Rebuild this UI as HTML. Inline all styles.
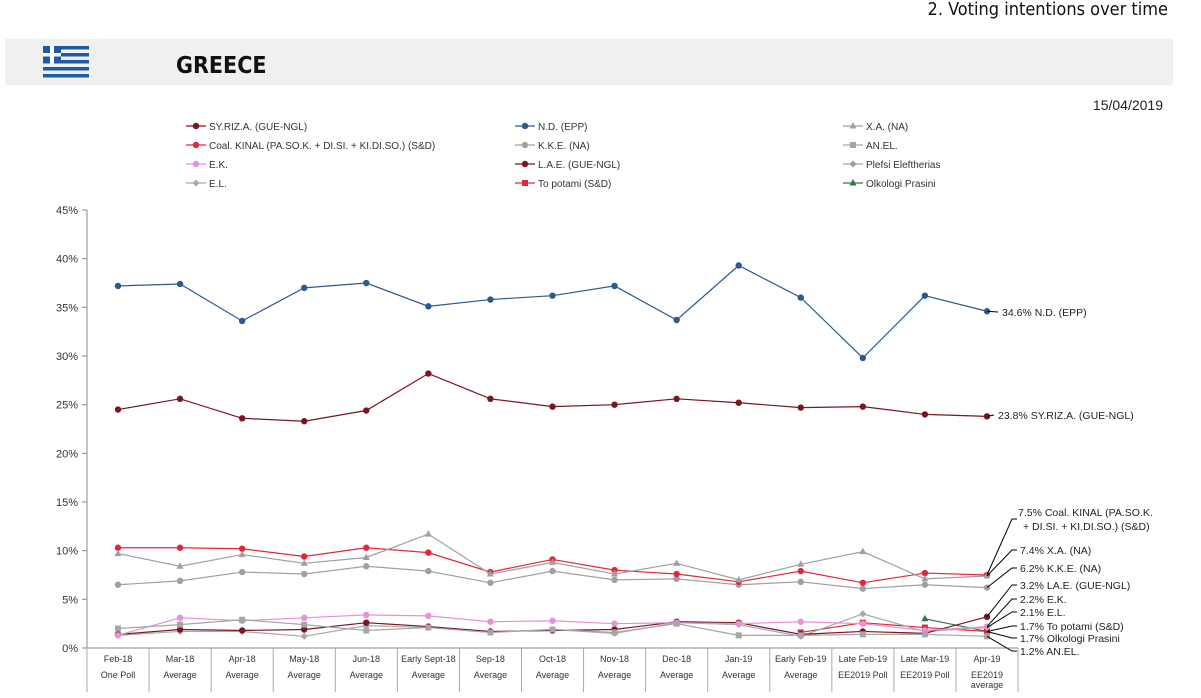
<!DOCTYPE html>
<html><head><meta charset="utf-8"><style>
html,body{margin:0;padding:0;background:#fff;}
svg{display:block;font-family:"Liberation Sans",Arial,sans-serif;}
</style></head><body>
<svg id="s" width="1201" height="698" viewBox="0 0 1201 698" xmlns="http://www.w3.org/2000/svg">
<text x="1168" y="15" text-anchor="end" font-size="18" fill="#111" style="font-family:'DejaVu Sans Condensed','Liberation Sans Narrow','Liberation Sans',sans-serif">2. Voting intentions over time</text>
<rect x="5" y="39" width="1168" height="46" fill="#f0f0f0"/>
<g fill="#1f5aa6">
<rect x="43" y="46" width="46" height="3.5"/><rect x="43" y="53" width="46" height="3.5"/><rect x="43" y="60" width="46" height="3.5"/><rect x="43" y="67" width="46" height="3.5"/><rect x="43" y="74" width="46" height="3.5"/>
<rect x="43" y="46" width="18" height="17.5"/>
</g>
<rect x="50" y="46" width="4" height="17.5" fill="#fff"/><rect x="43" y="53" width="18" height="3.5" fill="#fff"/>
<text x="176" y="73" font-size="23" font-weight="bold" fill="#111" style="font-family:'DejaVu Sans Condensed','Liberation Sans Narrow','Liberation Sans',sans-serif">GREECE</text>
<text x="1163" y="110" text-anchor="end" font-size="14" fill="#222">15/04/2019</text>
<g id="g"></g>
</svg>
<script>
const g=document.getElementById('g');
let h='';
const Y=v=>648-v*9.733, X=i=>118+62.07*i;
// grid axis
h+='<line x1="87" y1="210" x2="87" y2="648" stroke="#888"/>';
for(let p=0;p<=45;p+=5){let y=Y(p);h+=`<line x1="82" y1="${y}" x2="87" y2="${y}" stroke="#888"/><text x="78" y="${y+4}" text-anchor="end" font-size="11" fill="#333">${p}%</text>`;}
h+='<line x1="87" y1="648" x2="1018" y2="648" stroke="#888"/>';
for(let i=0;i<=15;i++){let x=87+62.07*i;h+=`<line x1="${x}" y1="648" x2="${x}" y2="692" stroke="#aaa"/>`;}
const c1=["Feb-18","Mar-18","Apr-18","May-18","Jun-18","Early Sept-18","Sep-18","Oct-18","Nov-18","Dec-18","Jan-19","Early Feb-19","Late Feb-19","Late Mar-19","Apr-19"];
const c2=["One Poll","Average","Average","Average","Average","Average","Average","Average","Average","Average","Average","Average","EE2019 Poll","EE2019 Poll","EE2019"];
c1.forEach((t,i)=>{h+=`<text x="${X(i)}" y="662" text-anchor="middle" font-size="9" fill="#333">${t}</text><text x="${X(i)}" y="678" text-anchor="middle" font-size="9" fill="#333">${c2[i]}</text>`;});
h+=`<text x="${X(14)}" y="688" text-anchor="middle" font-size="9" fill="#333">average</text>`;
const S=[
["SY.RIZ.A. (GUE-NGL)","#7b1520","c",[24.5,25.6,23.6,23.3,24.4,28.2,25.6,24.8,25.0,25.6,25.2,24.7,24.8,24.0,23.8]],
["N.D. (EPP)","#2b5a8f","c",[37.2,37.4,33.6,37.0,37.5,35.1,35.8,36.2,37.2,33.7,39.3,36.0,29.8,36.2,34.6]],
["X.A. (NA)","#a0a0a0","t",[9.7,8.4,9.6,8.7,9.3,11.7,7.6,8.8,7.6,8.7,7.0,8.6,9.9,7.1,7.4]],
["Coal. KINAL (PA.SO.K. + DI.SI. + KI.DI.SO.) (S&amp;D)","#e0283c","c",[10.3,10.3,10.2,9.4,10.3,9.8,7.8,9.1,8.0,7.6,6.8,7.9,6.7,7.7,7.5]],
["K.K.E. (NA)","#a0a0a0","c",[6.5,6.9,7.8,7.6,8.4,7.9,6.7,7.9,7.0,7.1,6.5,6.8,6.1,6.5,6.2]],
["AN.EL.","#a6a6a6","s",[2.0,2.4,2.9,2.4,1.8,2.1,1.6,1.9,1.6,2.5,1.3,1.3,1.4,1.4,1.2]],
["E.K.","#e890d8","c",[1.3,3.1,2.8,3.1,3.4,3.3,2.7,2.8,2.5,2.6,2.5,2.7,2.5,1.8,2.2]],
["L.A.E. (GUE-NGL)","#7b1520","c",[1.4,1.9,1.8,1.9,2.6,2.2,1.7,1.8,1.9,2.7,2.6,1.4,1.7,1.5,3.2]],
["Plefsi Eleftherias","#a0a0a0","d",[]],
["E.L.","#a8a8a8","d",[1.3,1.7,1.7,1.2,2.3,2.1,1.6,1.9,1.5,2.6,2.4,1.2,3.5,1.7,2.1]],
["To potami (S&amp;D)","#e0283c","s",[null,null,null,null,null,null,null,null,null,null,null,1.6,2.6,2.1,1.7]],
["Olkologi Prasini","#2a7a4a","t",[null,null,null,null,null,null,null,null,null,null,null,null,null,3.0,1.7]]];
function mk(x,y,c,t){
 if(t=='c')return `<circle cx="${x}" cy="${y}" r="3.2" fill="${c}"/>`;
 if(t=='s')return `<rect x="${x-3}" y="${y-3}" width="6" height="6" fill="${c}"/>`;
 if(t=='t')return `<polygon points="${x},${y-4} ${x+3.5},${y+2.5} ${x-3.5},${y+2.5}" fill="${c}"/>`;
 return `<polygon points="${x},${y-3.5} ${x+3.5},${y} ${x},${y+3.5} ${x-3.5},${y}" fill="${c}"/>`;}
[...S].reverse().forEach(s=>{let pts=[];s[3].forEach((v,i)=>{if(v!=null)pts.push([X(i),Y(v)]);});
 if(pts.length){h+=`<polyline points="${pts.map(p=>p.join(',')).join(' ')}" fill="none" stroke="${s[1]}" stroke-width="1.2"/>`;pts.forEach(p=>h+=mk(p[0],p[1],s[1],s[2]));}});
// legend
const lx=[186,515,843],ly=[126,145,164,183];
S.forEach((s,i)=>{let x=lx[i%3],y=ly[Math.floor(i/3)];h+=`<line x1="${x}" y1="${y}" x2="${x+20}" y2="${y}" stroke="${s[1]}" stroke-width="1.2"/>`+mk(x+10,y,s[1],s[2])+`<text x="${x+23}" y="${y+4}" font-size="10" fill="#333">${s[0]}</text>`;});
// labels
const px=X(14);
h+=`<line x1="${px}" y1="${Y(34.6)}" x2="998" y2="312" stroke="#000"/><text x="1002" y="316" font-size="10.5" fill="#222">34.6% N.D. (EPP)</text>`;
h+=`<line x1="${px}" y1="${Y(23.8)}" x2="994" y2="415" stroke="#000"/><text x="998" y="419" font-size="10.5" fill="#222">23.8% SY.RIZ.A. (GUE-NGL)</text>`;
const L=[[7.5,519,"7.5% Coal. KINAL (PA.SO.K.",1018],[7.4,550,"7.4% X.A. (NA)"],[6.2,568,"6.2% K.K.E. (NA)"],[3.2,585,"3.2% LA.E. (GUE-NGL)"],[2.2,599,"2.2% E.K."],[2.1,612,"2.1% E.L."],[1.7,626,"1.7% To potami (S&amp;D)"],[1.7,638,"1.7% Olkologi Prasini"],[1.2,651,"1.2% AN.EL."]];
L.forEach(l=>{h+=`<polyline points="${px},${Y(l[0])} 1012,${l[1]} 1017,${l[1]}" fill="none" stroke="#000"/><text x="1020" y="${l[1]+4}" font-size="10.5" fill="#222">${l[2]}</text>`;});
h+=`<text x="1023" y="530" font-size="10.5" fill="#222">+ DI.SI. + KI.DI.SO.) (S&amp;D)</text>`;
h=h.replace('<text x="1020" y="523"','<text x="1018" y="516"');
g.innerHTML=h;
</script>
</body></html>
